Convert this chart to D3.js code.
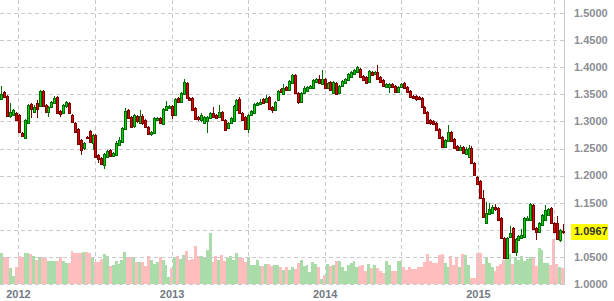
<!DOCTYPE html>
<html>
<head>
<meta charset="utf-8">
<title>EUR/USD weekly</title>
<style>
body { margin:0; background:#fff; }
#chart { width:614px; height:301px; }
</style>
</head>
<body>
<div id="chart"></div>
<script src="https://d3js.org/d3.v7.min.js"></script>
<script>
// weekly candles, first bar = week of 18 Nov 2011
var startDate = new Date(2011, 10, 18);

var open = [1.341,1.354,1.347,1.310,1.312,1.315,1.312,1.279,1.269,1.297,1.332,1.317,1.334,1.328,1.356,1.330,1.317,1.327,1.334,1.345,
1.319,1.315,1.328,1.334,1.312,1.297,1.286,1.266,1.251,1.271,1.282,1.260,1.275,1.238,1.232,1.220,1.234,1.247,1.236,1.238,
1.256,1.262,1.286,1.321,1.308,1.291,1.310,1.297,1.310,1.303,1.290,1.277,1.279,1.303,1.306,1.295,1.321,1.325,1.328,1.312,
1.343,1.336,1.351,1.371,1.343,1.343,1.325,1.308,1.303,1.297,1.301,1.306,1.315,1.312,1.308,1.317,1.303,1.288,1.297,1.301,
1.321,1.341,1.315,1.308,1.286,1.312,1.315,1.330,1.332,1.341,1.336,1.345,1.327,1.321,1.340,1.360,1.351,1.363,1.358,1.371,
1.386,1.352,1.336,1.352,1.356,1.362,1.362,1.373,1.378,1.369,1.378,1.362,1.373,1.352,1.371,1.352,1.365,1.371,1.376,1.382,
1.387,1.391,1.397,1.384,1.382,1.373,1.391,1.387,1.391,1.382,1.376,1.363,1.363,1.369,1.365,1.354,1.363,1.371,1.363,1.356,
1.347,1.347,1.345,1.343,1.327,1.317,1.303,1.301,1.297,1.286,1.271,1.253,1.264,1.280,1.267,1.255,1.247,1.253,1.240,1.234,
1.251,1.223,1.197,1.190,1.159,1.113,1.129,1.131,1.142,1.140,1.122,1.085,1.048,1.087,1.103,1.059,1.081,1.085,1.087,1.118,
1.118,1.146,1.103,1.096,1.109,1.118,1.127,1.140,1.113,1.113,1.081,1.098];

var high = [1.365,1.356,1.349,1.334,1.323,1.317,1.314,1.280,1.304,1.332,1.334,1.330,1.340,1.358,1.358,1.332,1.328,1.338,1.347,1.347,
1.321,1.332,1.338,1.336,1.314,1.299,1.288,1.267,1.262,1.273,1.284,1.277,1.277,1.240,1.234,1.242,1.247,1.249,1.243,1.264,
1.271,1.290,1.325,1.323,1.310,1.314,1.312,1.321,1.314,1.304,1.291,1.282,1.308,1.308,1.308,1.325,1.338,1.330,1.330,1.343,
1.345,1.354,1.378,1.373,1.345,1.345,1.327,1.310,1.315,1.310,1.310,1.317,1.327,1.314,1.330,1.319,1.304,1.299,1.308,1.330,
1.341,1.345,1.317,1.310,1.314,1.321,1.334,1.336,1.341,1.343,1.349,1.347,1.328,1.338,1.358,1.362,1.369,1.365,1.376,1.387,
1.387,1.354,1.354,1.365,1.365,1.367,1.378,1.380,1.386,1.395,1.380,1.373,1.374,1.374,1.373,1.367,1.376,1.380,1.389,1.393,
1.397,1.402,1.399,1.386,1.384,1.395,1.393,1.393,1.404,1.384,1.378,1.371,1.371,1.371,1.367,1.365,1.371,1.373,1.365,1.358,
1.349,1.349,1.347,1.345,1.328,1.319,1.304,1.303,1.299,1.288,1.273,1.267,1.293,1.282,1.269,1.256,1.256,1.255,1.253,1.256,
1.255,1.225,1.199,1.192,1.173,1.151,1.149,1.146,1.148,1.142,1.124,1.087,1.087,1.107,1.105,1.085,1.090,1.101,1.124,1.125,
1.149,1.148,1.105,1.114,1.129,1.146,1.140,1.142,1.114,1.125,1.101,1.111];

var low = [1.340,1.343,1.308,1.306,1.310,1.301,1.279,1.271,1.267,1.295,1.306,1.315,1.306,1.327,1.327,1.315,1.308,1.325,1.332,1.314,
1.308,1.314,1.325,1.314,1.297,1.279,1.256,1.238,1.247,1.267,1.260,1.247,1.232,1.223,1.220,1.212,1.232,1.234,1.234,1.236,
1.255,1.260,1.284,1.304,1.288,1.288,1.297,1.295,1.293,1.288,1.275,1.273,1.277,1.301,1.295,1.293,1.319,1.323,1.304,1.310,
1.334,1.334,1.349,1.341,1.338,1.319,1.303,1.301,1.299,1.295,1.279,1.304,1.306,1.304,1.306,1.301,1.282,1.286,1.295,1.299,
1.319,1.314,1.301,1.284,1.279,1.310,1.314,1.328,1.330,1.332,1.334,1.321,1.315,1.319,1.338,1.352,1.349,1.356,1.356,1.369,
1.351,1.332,1.334,1.351,1.354,1.360,1.360,1.371,1.369,1.367,1.360,1.360,1.356,1.351,1.349,1.351,1.363,1.369,1.374,1.380,
1.386,1.389,1.380,1.374,1.369,1.371,1.384,1.386,1.376,1.371,1.363,1.362,1.352,1.362,1.352,1.352,1.362,1.360,1.352,1.343,
1.341,1.338,1.340,1.325,1.314,1.295,1.293,1.293,1.282,1.267,1.251,1.251,1.262,1.262,1.249,1.245,1.245,1.240,1.238,1.232,
1.221,1.199,1.183,1.157,1.122,1.111,1.127,1.129,1.135,1.116,1.083,1.046,1.046,1.085,1.057,1.052,1.079,1.083,1.085,1.116,
1.116,1.100,1.081,1.094,1.107,1.116,1.125,1.111,1.094,1.081,1.077,1.092];

var close = [1.351,1.345,1.310,1.317,1.321,1.303,1.280,1.273,1.303,1.330,1.323,1.327,1.323,1.356,1.328,1.317,1.327,1.336,1.343,1.315,
1.314,1.330,1.336,1.315,1.299,1.280,1.258,1.247,1.260,1.269,1.262,1.275,1.234,1.231,1.221,1.240,1.245,1.236,1.242,1.260,
1.266,1.288,1.319,1.306,1.290,1.312,1.301,1.310,1.297,1.290,1.277,1.280,1.306,1.306,1.297,1.323,1.328,1.328,1.312,1.341,
1.336,1.352,1.373,1.343,1.340,1.321,1.304,1.304,1.312,1.308,1.308,1.315,1.308,1.306,1.317,1.303,1.284,1.297,1.306,1.328,
1.340,1.315,1.303,1.286,1.312,1.319,1.332,1.334,1.336,1.334,1.343,1.323,1.321,1.336,1.356,1.354,1.362,1.358,1.374,1.386,
1.352,1.336,1.352,1.362,1.363,1.365,1.376,1.378,1.371,1.378,1.362,1.371,1.358,1.373,1.351,1.365,1.374,1.378,1.387,1.391,
1.395,1.400,1.382,1.376,1.371,1.393,1.386,1.391,1.378,1.373,1.365,1.369,1.369,1.363,1.354,1.363,1.369,1.362,1.354,1.345,
1.343,1.341,1.341,1.327,1.315,1.297,1.297,1.295,1.284,1.269,1.253,1.266,1.280,1.264,1.251,1.247,1.253,1.242,1.249,1.251,
1.223,1.201,1.184,1.159,1.124,1.131,1.138,1.142,1.138,1.118,1.085,1.048,1.085,1.094,1.059,1.083,1.089,1.090,1.122,1.122,
1.148,1.101,1.096,1.113,1.127,1.137,1.138,1.113,1.096,1.083,1.100,1.0967];

var volume = [31,27,27,16,8,17,28,26,31,31,30,28,24,27,27,26,23,23,23,23,
27,23,21,21,33,31,31,31,32,32,31,27,22,22,25,30,28,18,19,23,
20,24,32,27,27,27,22,22,22,18,28,24,20,22,27,24,19,7,16,27,
28,25,29,33,24,25,38,28,28,26,34,51,22,28,24,29,23,26,28,24,
31,27,26,22,27,19,19,24,18,18,20,20,18,19,19,17,14,17,14,17,
15,21,24,18,19,12,22,20,17,5,9,20,18,19,23,23,17,13,19,21,
23,17,18,19,13,20,16,19,16,13,11,23,19,13,13,23,23,17,14,17,
15,15,17,17,22,30,23,21,21,29,30,21,17,28,19,26,17,30,29,19,
6,6,31,31,20,27,21,17,13,18,20,24,25,30,20,27,24,28,23,25,
27,26,18,36,34,21,21,19,45,20,17,16];

var priceTicks = [1.00,1.05,1.10,1.15,1.20,1.25,1.30,1.35,1.40,1.45,1.50];
var gridDates = ["2012-01-01","2012-07-01","2013-01-01","2013-07-01","2014-01-01","2014-07-01","2015-01-01","2015-07-01"];
var gridLabels = ["2012","","2013","","2014","","2015",""];

var W = 614, H = 301, plotW = 564, baseY = 284;
var n = close.length;
var last = close[n - 1];
var parse = d3.timeParse("%Y-%m-%d");

var svg = d3.select("#chart").append("svg")
    .attr("width", W)
    .attr("height", H);

var x = d3.scaleTime()
    .domain([startDate, d3.timeDay.offset(startDate, 7 * n)])
    .range([0, plotW]);
var y = d3.scaleLinear().domain([1.0, 1.5]).range([baseY, 13]);
var yVol = d3.scaleLinear().domain([0, 100]).range([baseY, baseY - 100]);

function weekDate(i) { return d3.timeDay.offset(startDate, 7 * i); }
function up(i) { return close[i] >= open[i]; }
var idx = d3.range(n);

// volume bars behind everything
svg.append("g").selectAll("rect")
    .data(idx)
    .enter()
    .append("rect")
    .attr("x", function(i) { return Math.round(x(weekDate(i))); })
    .attr("width", function(i) { return Math.round(x(weekDate(i + 1))) - Math.round(x(weekDate(i))); })
    .attr("y", function(i) { return Math.round(yVol(volume[i])); })
    .attr("height", function(i) { return baseY - Math.round(yVol(volume[i])); })
    .attr("fill", function(i) { return up(i) ? "#a9dca9" : "#ffbdbd"; });

// grid
var grid = svg.append("g").attr("stroke", "#c9c9c9").attr("stroke-dasharray", "4,3");
grid.selectAll("line.h")
    .data(priceTicks)
    .enter()
    .append("line")
    .attr("x1", 0).attr("x2", plotW)
    .attr("y1", function(d) { return Math.round(y(d)) + 0.5; })
    .attr("y2", function(d) { return Math.round(y(d)) + 0.5; });
grid.selectAll("line.v")
    .data(gridDates)
    .enter()
    .append("line")
    .attr("x1", function(d) { return Math.round(x(parse(d))) + 0.5; })
    .attr("x2", function(d) { return Math.round(x(parse(d))) + 0.5; })
    .attr("y1", 0).attr("y2", baseY);

svg.append("line")
    .attr("x1", plotW + 0.5).attr("x2", plotW + 0.5)
    .attr("y1", 0).attr("y2", baseY + 1)
    .attr("stroke", "#c9c9c9");

// candles
function cx(i) { return Math.round(x(weekDate(i)) + (x(weekDate(1)) - x(weekDate(0))) / 2) - 1; }

svg.append("g").selectAll("line")
    .data(idx)
    .enter()
    .append("line")
    .attr("x1", function(i) { return cx(i) + 1.5; })
    .attr("x2", function(i) { return cx(i) + 1.5; })
    .attr("y1", function(i) { return Math.round(y(high[i])); })
    .attr("y2", function(i) { return Math.round(y(low[i])); })
    .attr("stroke", function(i) { return up(i) ? "#006b00" : "#7a0000"; });

svg.append("g").selectAll("rect")
    .data(idx)
    .enter()
    .append("rect")
    .attr("x", function(i) { return cx(i) + 0.5; })
    .attr("width", 2)
    .attr("y", function(i) { return Math.round(y(Math.max(open[i], close[i]))) + 0.5; })
    .attr("height", function(i) {
        return Math.max(1, Math.round(y(Math.min(open[i], close[i]))) - Math.round(y(Math.max(open[i], close[i]))));
    })
    .attr("fill", function(i) { return up(i) ? "#00d400" : "#e00000"; })
    .attr("stroke", function(i) { return up(i) ? "#006b00" : "#7a0000"; });

// axis labels (the one hidden under the last-price marker is skipped)
svg.append("g").selectAll("text")
    .data(priceTicks.filter(function(d) { return Math.abs(y(d) - y(last)) > 12; }))
    .enter()
    .append("text")
    .attr("x", 574)
    .attr("y", function(d) { return y(d); })
    .attr("dy", "0.35em")
    .attr("font-family", "Liberation Sans, Arial, sans-serif")
    .attr("font-size", 11)
    .attr("font-weight", "bold")
    .attr("fill", "#8b8e94")
    .text(function(d) { return d3.format(".4f")(d); });

svg.append("g").selectAll("text")
    .data(gridDates)
    .enter()
    .append("text")
    .attr("x", function(d) { return x(parse(d)); })
    .attr("y", 298)
    .attr("text-anchor", "middle")
    .attr("font-family", "Liberation Sans, Arial, sans-serif")
    .attr("font-size", 11)
    .attr("font-weight", "bold")
    .attr("fill", "#737984")
    .text(function(d, i) { return gridLabels[i]; });

// last price marker
svg.append("rect")
    .attr("x", 571).attr("y", Math.round(y(last)) - 8)
    .attr("width", 37).attr("height", 16)
    .attr("fill", "#ffff00");
svg.append("text")
    .attr("x", 574)
    .attr("y", y(last))
    .attr("dy", "0.35em")
    .attr("font-family", "Liberation Sans, Arial, sans-serif")
    .attr("font-size", 11)
    .attr("font-weight", "bold")
    .attr("fill", "#333")
    .text(d3.format(".4f")(last));
</script>
</body>
</html>
